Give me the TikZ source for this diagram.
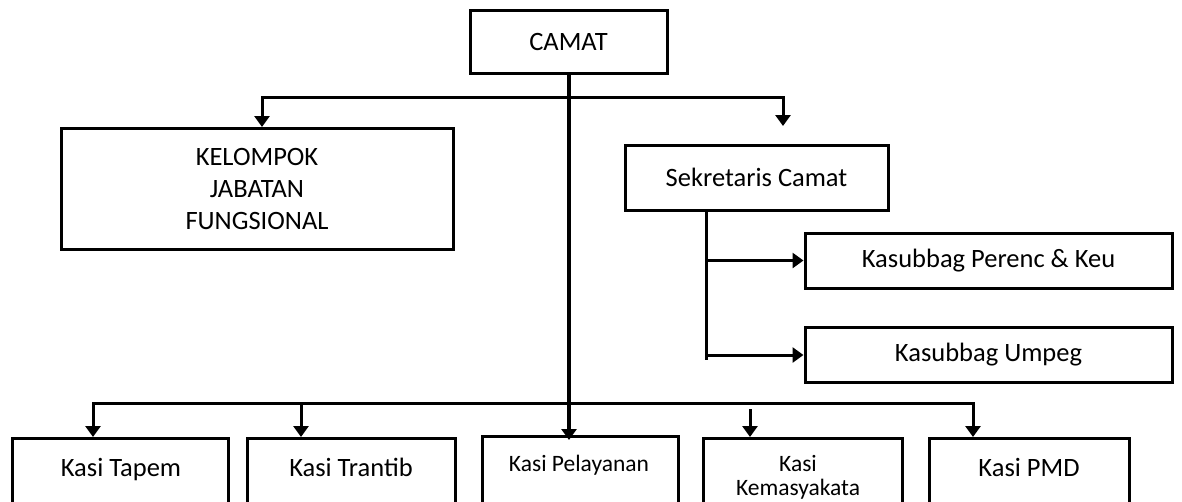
\documentclass[tikz,border=0pt]{standalone}
\usepackage{fontspec}
\setmainfont{Carlito}
\usetikzlibrary{arrows.meta}
\begin{document}
\begin{tikzpicture}[x=1pt,y=-1pt,
  box/.style={draw=black, line width=3pt, fill=white, rectangle, inner sep=0pt},
  big/.style={font=\fontsize{26.5}{32}\selectfont, align=center},
  small/.style={font=\fontsize{23.5}{28}\selectfont, align=center},
  conn/.style={line width=3pt, line cap=rect},
  arr/.style={conn, -{Triangle[width=15pt,length=11pt]}}]
\useasboundingbox (0,0) rectangle (1182,501);
\clip (0,0) rectangle (1182,501);
% top boxes
\node[box, big, minimum width=197pt, minimum height=63pt] (camat) at (568.5,41.5) {CAMAT};
\node[box, big, minimum width=392pt, minimum height=121pt] (kjf) at (257,189) {KELOMPOK\\JABATAN\\FUNGSIONAL};
\node[box, big, minimum width=263pt, minimum height=65pt] (sek) at (756.5,177.5) {Sekretaris Camat};
\node[box, big, minimum width=367pt, minimum height=55pt] (perenc) at (988.5,260.5) {Kasubbag Perenc \& Keu};
\node[box, big, minimum width=367pt, minimum height=55pt] (umpeg) at (988.5,355) {Kasubbag Umpeg};
% bottom boxes (extend below the page)
\node[box, anchor=north, minimum width=216pt, minimum height=120pt] (tapem) at (120,437) {};
\node[box, anchor=north, minimum width=208pt, minimum height=120pt] (trantib) at (351,437) {};
\node[box, anchor=north, minimum width=196pt, minimum height=120pt] (pel) at (580,435) {};
\node[box, anchor=north, minimum width=199pt, minimum height=120pt] (kem) at (802.5,437) {};
\node[box, anchor=north, minimum width=200pt, minimum height=120pt] (pmd) at (1029,437) {};
\node[big, anchor=base] (tapemT) at (121,476) {Kasi Tapem};
\node[big, anchor=base] (trantibT) at (351,476) {Kasi Trantib};
\node[small, anchor=base] (pelT) at (579,471) {Kasi Pelayanan};
\node[small, anchor=base] (kemT1) at (798,471) {Kasi};
\node[small, anchor=base] (kemT2) at (798,495) {Kemasyakata};
\node[big, anchor=base] (pmdT) at (1029,476) {Kasi PMD};
% junctions
\coordinate (j1) at (569,97);
\coordinate (j2) at (569,403);
\coordinate (sekTip) at (783,126);
\coordinate (sekLine) at (706,210);
% connectors
\draw[conn] (262,97) -- (sekTip |- j1);
\draw[arr] (j1 -| 262,0) -- ([xshift=5pt]kjf.north);
\draw[arr] (sekTip |- j1) -- (sekTip);
\draw[arr, line width=3.6pt] (camat.south -| j1) -- ([yshift=-5pt]pel.north -| j1);
\draw[conn] (93,403) -- (973,403);
\draw[arr] (j2 -| 93,0) -- (tapem.north -| 93,0);
\draw[arr] (j2 -| 301,0) -- (trantib.north -| 301,0);
\draw[arr] (750,410) -- (kem.north -| 750,0);
\draw[arr] (j2 -| 973,0) -- (pmd.north -| 973,0);
\draw[conn] (sekLine) -- (706,358);
\draw[arr] (sekLine |- perenc.west) -- (perenc.west);
\draw[arr] (sekLine |- umpeg.west) -- (umpeg.west);
\end{tikzpicture}
\end{document}
